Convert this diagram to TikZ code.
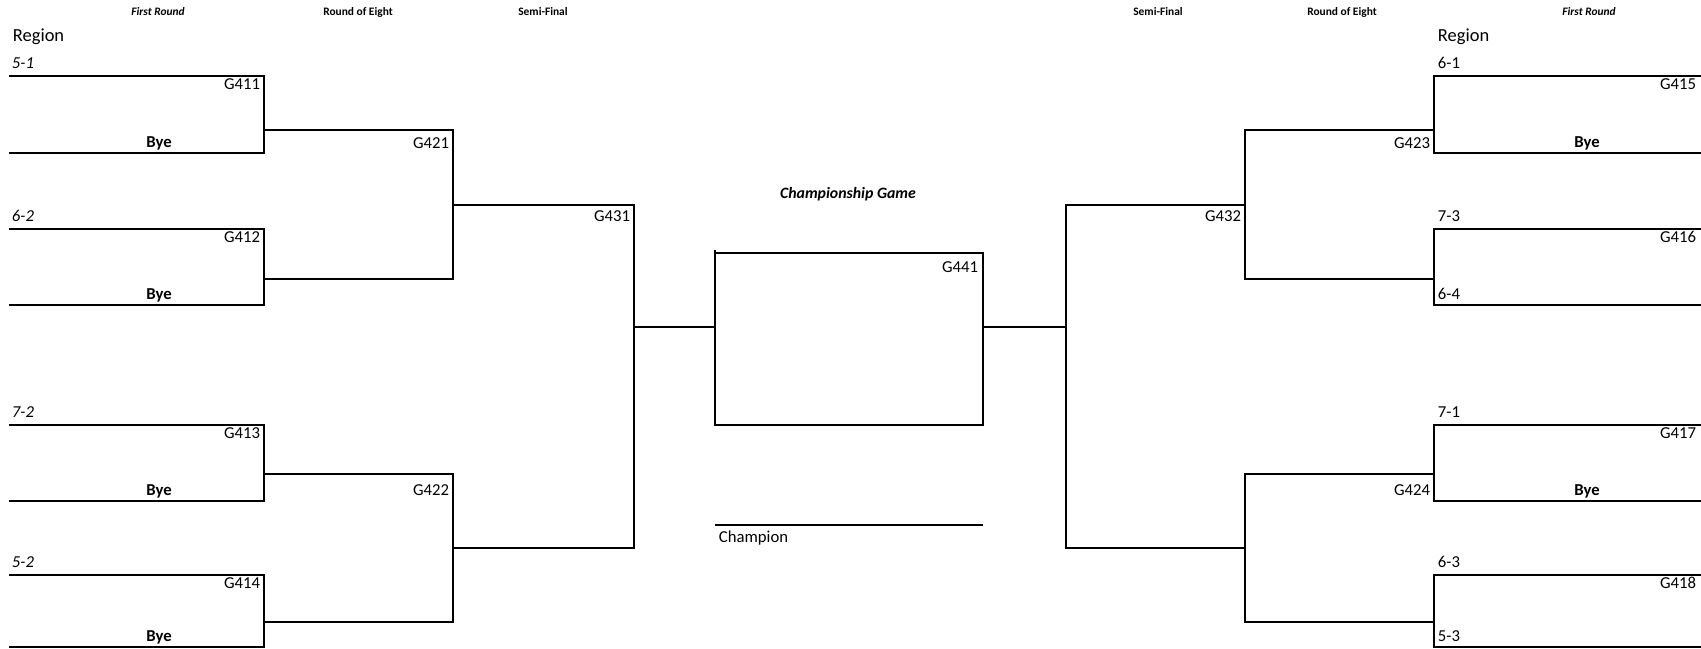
\documentclass[tikz,border=0pt]{standalone}
\usepackage{fontspec}
\setmainfont{Carlito}
\usetikzlibrary{positioning}

\tikzset{
  lbl/.style={inner sep=0pt, font=\fontsize{9.5}{11}\selectfont},
  gm/.style={lbl, anchor=base east},
  seedl/.style={lbl, anchor=base west, font=\fontsize{9.5}{11}\selectfont\itshape},
  seedr/.style={lbl, anchor=base west},
  bye/.style={lbl, anchor=base, font=\fontsize{9.5}{11}\selectfont\bfseries},
  hdr/.style={inner sep=0pt, anchor=base, font=\fontsize{6.5}{8}\selectfont\bfseries},
  hdri/.style={hdr, font=\fontsize{6.5}{8}\selectfont\bfseries\itshape},
  region/.style={inner sep=0pt, anchor=base west, font=\fontsize{10.5}{12}\selectfont}
}

\begin{document}
\begin{tikzpicture}[x=0.02cm, y=-0.02cm, line width=1.1pt]
  \useasboundingbox (0,0) rectangle (1701,649);
  \node[hdri] (hfrl) at (158,15) {First Round};
  \node[hdr] (hrel) at (358,15) {Round of Eight};
  \node[hdr] (hsfl) at (543,15) {Semi-Final};
  \node[hdr] (hsfr) at (1158,15) {Semi-Final};
  \node[hdr] (hrer) at (1342,15) {Round of Eight};
  \node[hdri] (hfrr) at (1589,15) {First Round};
  \node[region] (regl) at (12,41) {Region};
  \node[region] (regr) at (1437,41) {Region};

  % left half
  \foreach \t/\b/\s/\g [count=\i] in {76/153/5-1/G411, 229/305/6-2/G412, 425/501/7-2/G413, 575/647/5-2/G414} {
    \coordinate (lt\i) at (9,\t);
    \coordinate (lb\i) at (9,\b);
    \draw (lt\i) -- (264,\t) -- (264,\b) -- (lb\i);
    \node[seedl] (ls\i) at (11,\t-8) {\s};
    \node[gm] (lg\i) at (261,\t+13) {\g};
    \node[bye] (lbye\i) at (159,\b-6) {Bye};
  }
  \coordinate (lq1) at (264,130);
  \coordinate (lq2) at (264,279);
  \coordinate (lq3) at (264,474);
  \coordinate (lq4) at (264,622);
  \draw (lq1) -- (453,130) -- (453,279) -- (lq2);
  \draw (lq3) -- (453,474) -- (453,622) -- (lq4);
  \node[gm] (g421) at (450,148) {G421};
  \node[gm] (g422) at (450,495) {G422};
  \coordinate (ls1) at (453,205);
  \coordinate (ls2) at (453,548);
  \draw (ls1) -- (634,205) -- (634,548) -- (ls2);
  \node[gm] (g431) at (631,221) {G431};
  \coordinate (lfin) at (634,327);

  % championship
  \node[hdri, font=\fontsize{9}{11}\selectfont\bfseries\itshape] (title) at (848,198) {Championship Game};
  \node[draw, inner sep=0pt, outer sep=0pt, minimum width=5.36cm, minimum height=3.44cm] (box) at (849,339) {};
  \draw (box.north west) -- ++(0,-3);
  \node[gm] (g441) at (979,272) {G441};
  \draw (lfin) -- (lfin -| box.west);
  \coordinate (cl) at (715,525);
  \coordinate (cr) at (983,525);
  \draw (cl) -- (cr);
  \node[lbl, anchor=base west] (champ) at (718,542) {Champion};

  % right half
  \foreach \t/\b/\s/\g [count=\i] in {76/153/6-1/G415, 229/305/7-3/G416, 425/501/7-1/G417, 575/647/6-3/G418} {
    \coordinate (rt\i) at (1701,\t);
    \coordinate (rb\i) at (1701,\b);
    \draw (rt\i) -- (1434,\t) -- (1434,\b) -- (rb\i);
    \node[seedr] (rs\i) at (1437,\t-8) {\s};
    \node[gm] (rg\i) at (1697,\t+13) {\g};
  }
  \node[bye] (rbye1) at (1587,147) {Bye};
  \node[seedr] (rlow2) at (1437,299) {6-4};
  \node[bye] (rbye3) at (1587,495) {Bye};
  \node[seedr] (rlow4) at (1437,641) {5-3};
  \coordinate (rq1) at (1434,130);
  \coordinate (rq2) at (1434,279);
  \coordinate (rq3) at (1434,474);
  \coordinate (rq4) at (1434,622);
  \draw (rq1) -- (1245,130) -- (1245,279) -- (rq2);
  \draw (rq3) -- (1245,474) -- (1245,622) -- (rq4);
  \node[gm] (g423) at (1431,148) {G423};
  \node[gm] (g424) at (1431,495) {G424};
  \coordinate (rs1) at (1245,205);
  \coordinate (rs2) at (1245,548);
  \draw (rs1) -- (1066,205) -- (1066,548) -- (rs2);
  \node[gm] (g432) at (1242,221) {G432};
  \coordinate (rfin) at (1066,327);
  \draw (rfin) -- (rfin -| box.east);
\end{tikzpicture}
\end{document}
